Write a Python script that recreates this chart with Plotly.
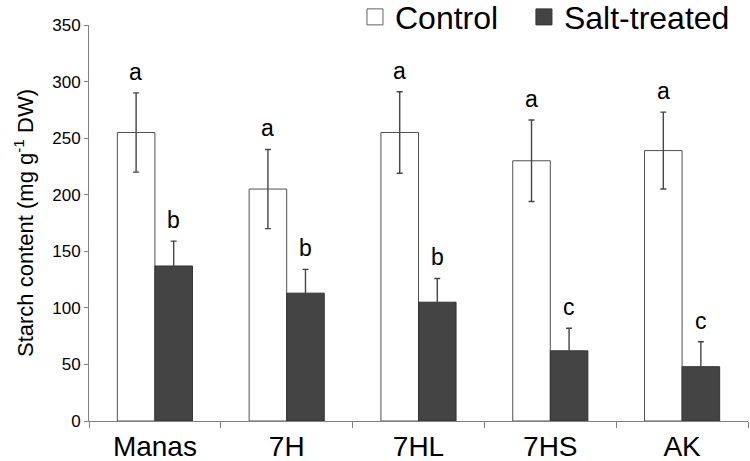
import plotly.graph_objects as go

categories = ["Manas", "7H", "7HL", "7HS", "AK"]
control = [255, 205, 255, 230, 239]
control_err = [35, 35, 36, 36, 34]
salt = [137, 113, 105, 62, 48]
salt_err = [22, 21, 21, 20, 22]
control_letters = ["a", "a", "a", "a", "a"]
salt_letters = ["b", "b", "b", "c", "c"]

FONT = "Liberation Sans, Arial, sans-serif"
CONTROL_FILL = "white"
CONTROL_LINE = "#505050"
SALT_FILL = "#444444"
SALT_LINE = "#333333"

fig = go.Figure()
fig.add_trace(go.Bar(
    x=categories, y=control, name="Control", showlegend=False,
    marker=dict(color=CONTROL_FILL, line=dict(color=CONTROL_LINE, width=1)),
    error_y=dict(type="data", array=control_err, color="#454545", thickness=1.4, width=3),
))
fig.add_trace(go.Bar(
    x=categories, y=salt, name="Salt-treated", showlegend=False,
    marker=dict(color=SALT_FILL, line=dict(color=SALT_LINE, width=1)),
    error_y=dict(type="data", array=salt_err, color="#454545", thickness=1.4, width=3),
))
# legend-only entries with larger square symbols
fig.add_trace(go.Scatter(
    x=[None], y=[None], mode="markers", name="Control", legend="legend",
    marker=dict(symbol="square", size=16, color=CONTROL_FILL, line=dict(color="#606060", width=1)),
))
fig.add_trace(go.Scatter(
    x=[None], y=[None], mode="markers", name="Salt-treated", legend="legend2",
    marker=dict(symbol="square", size=16, color=SALT_FILL, line=dict(color=SALT_LINE, width=1)),
))

for c, v, e, t in zip(categories, control, control_err, control_letters):
    fig.add_annotation(x=c, y=v + e, text=t, showarrow=False, xshift=-19, yshift=6,
                       yanchor="bottom", font=dict(size=23, color="black", family=FONT))
for c, v, e, t in zip(categories, salt, salt_err, salt_letters):
    fig.add_annotation(x=c, y=v + e, text=t, showarrow=False, xshift=19, yshift=6,
                       yanchor="bottom", font=dict(size=23, color="black", family=FONT))

legend_style = dict(orientation="h", xanchor="left", y=1.02, yanchor="middle",
                    font=dict(size=32, color="black"), bgcolor="rgba(0,0,0,0)",
                    itemwidth=30)

fig.update_layout(
    width=750, height=461,
    margin=dict(l=89, r=2, t=25, b=40, autoexpand=False),
    paper_bgcolor="white", plot_bgcolor="white",
    barmode="group", bargap=0.43, bargroupgap=0,
    font=dict(family=FONT, color="black"),
    showlegend=True,
    legend=dict(x=0.4036, **legend_style),
    legend2=dict(x=0.660, **legend_style),
    yaxis=dict(range=[0, 350], dtick=50, showgrid=False, zeroline=False,
               showline=True, linecolor="#808080", linewidth=1,
               ticks="outside", ticklen=4, tickcolor="#808080",
               tickfont=dict(size=17, color="black"),
               title=dict(text="Starch content (mg g<sup>-1</sup> DW)", font=dict(size=22, color="black"), standoff=12)),
    xaxis=dict(showgrid=False, showline=True, linecolor="#808080", linewidth=1,
               ticks="outside", ticklen=6, tickcolor="#808080", tickson="boundaries",
               tickfont=dict(size=28, color="black")),
)

fig.write_html("out.html", config={"displayModeBar": False},
               post_script="document.body.style.margin='0';")
